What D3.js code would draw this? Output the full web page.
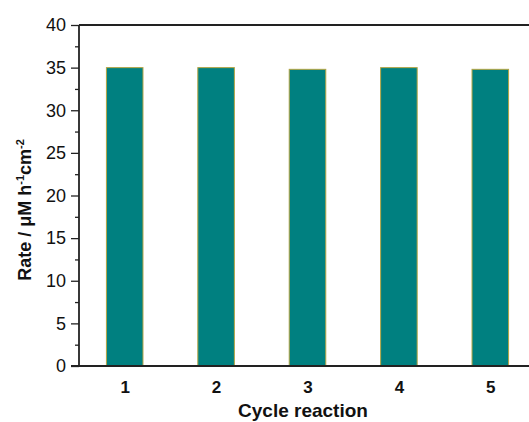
<!DOCTYPE html>
<html lang="en">
<head>
    <meta charset="UTF-8">
    <title>Cycle reaction rate</title>
    <script src="https://cdn.jsdelivr.net/npm/d3@7"></script>
    <style>
        body { margin: 0; background: white; }
        svg { display: block; font-family: "Liberation Sans", Arial, sans-serif; }
    </style>
</head>
<body>
<svg></svg>
<script>
    // DATA
    const cycles = [1, 2, 3, 4, 5];
    const rates = [35.0, 35.0, 34.8, 35.0, 34.8];
    const yTicks = [0, 5, 10, 15, 20, 25, 30, 35, 40];
    const yMinorTicks = [2.5, 7.5, 12.5, 17.5, 22.5, 27.5, 32.5, 37.5];

    const dim = {width: 529, height: 422};
    const plot = {left: 79, top: 25, bottom: 366, right: 536};

    const svg = d3.select("svg")
        .attr("width", dim.width).attr("height", dim.height);

    // SCALES
    const x = d3.scaleLinear().domain([0.5, 5.5]).range([plot.left, plot.right]);
    const y = d3.scaleLinear().domain([0, 40]).range([plot.bottom, plot.top]);
    const barW = x(1.4) - x(1);

    // BARS
    svg.append("g")
        .selectAll("rect")
        .data(cycles)
        .join("rect")
            .attr("x", (d) => x(d) - barW / 2)
            .attr("y", (d, i) => y(rates[i]))
            .attr("width", barW)
            .attr("height", (d, i) => y(0) - y(rates[i]))
            .style("fill", "#008080")
            .style("stroke", "#b3a443")
            .style("stroke-width", 1);

    // AXES
    const yAxis = svg.append("g")
        .attr("transform", `translate(${plot.left},0)`)
        .call(d3.axisLeft(y).tickValues(yTicks).tickSize(8).tickPadding(5).tickFormat(d3.format("d")));
    yAxis.select(".domain").remove();
    yAxis.selectAll("text").style("font-size", "18px").style("fill", "#111");
    yAxis.selectAll("line").style("stroke", "#222").style("stroke-width", 1.3);

    svg.append("g")
        .attr("transform", `translate(${plot.left},0)`)
        .call(d3.axisLeft(y).tickValues(yMinorTicks).tickSize(4).tickFormat(""))
        .call(g => g.select(".domain").remove())
        .selectAll("line").style("stroke", "#222").style("stroke-width", 1.3);

    const xAxis = svg.append("g")
        .attr("transform", `translate(0,${plot.bottom})`)
        .call(d3.axisBottom(x).tickValues(cycles).tickSize(0).tickPadding(15).tickFormat(d3.format("d")));
    xAxis.select(".domain").remove();
    xAxis.selectAll("text").style("font-size", "17px").style("font-weight", "bold").style("fill", "#111");

    // frame lines
    const frame = svg.append("g").style("stroke", "#222").style("stroke-width", 1.8).style("fill", "none");
    frame.append("line").attr("x1", plot.left).attr("x2", plot.left).attr("y1", plot.top).attr("y2", plot.bottom);
    frame.append("line").attr("x1", plot.left).attr("x2", dim.width).attr("y1", plot.top).attr("y2", plot.top);
    frame.append("line").attr("x1", plot.left - 8).attr("x2", dim.width).attr("y1", plot.bottom).attr("y2", plot.bottom);

    // AXIS TITLES
    svg.append("text")
        .attr("x", 303).attr("y", 417)
        .attr("text-anchor", "middle")
        .style("font-size", "19px").style("font-weight", "bold").style("fill", "#111")
        .text("Cycle reaction");

    const yTitle = svg.append("text")
        .attr("transform", "translate(31,210) rotate(-90)")
        .attr("text-anchor", "middle")
        .style("font-size", "18px").style("font-weight", "bold").style("fill", "#111");
    yTitle.append("tspan").text("Rate / \u03bcM h");
    yTitle.append("tspan").attr("dy", -7).style("font-size", "11px").text("-1");
    yTitle.append("tspan").attr("dy", 7).text("cm");
    yTitle.append("tspan").attr("dy", -7).style("font-size", "11px").text("-2");
</script>
</body>
</html>
